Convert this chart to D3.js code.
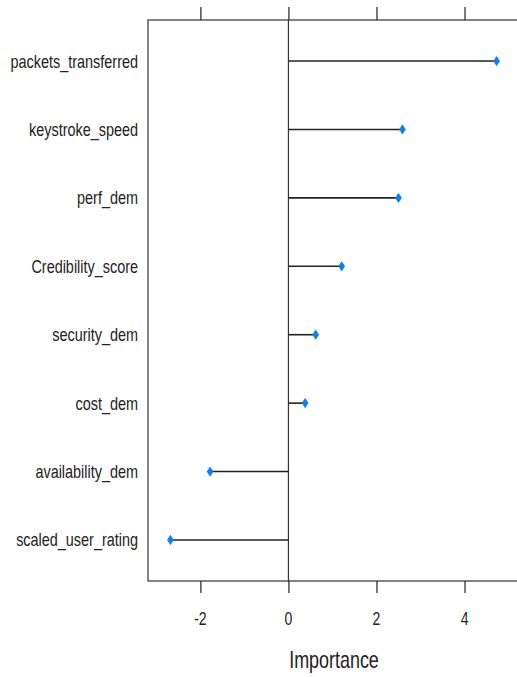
<!DOCTYPE html>
<html>
<head>
<meta charset="utf-8">
<script src="https://cdn.jsdelivr.net/npm/d3@7"></script>
<style>
  body { margin: 0; background: #fff; }
  text { font-family: "Liberation Sans", Arial, sans-serif; fill: #222; }
</style>
</head>
<body>
<svg id="canvas" width="517" height="677"></svg>
<script>
// variable names, top to bottom as drawn
let features = ['packets_transferred', 'keystroke_speed', 'perf_dem', 'Credibility_score',
                'security_dem', 'cost_dem', 'availability_dem', 'scaled_user_rating'];
let importance = [4.73, 2.59, 2.50, 1.21, 0.62, 0.38, -1.78, -2.68];
let tickValues = [-2, 0, 2, 4];
let xTitle = 'Importance';

let canvas = d3.select('#canvas');

let panelLeft = 148, panelRight = 520, panelTop = 20, panelBottom = 581;
let squeeze = 0.78;   // text in the picture is horizontally condensed

let x = d3.scaleLinear().domain([-3.19, 5.26]).range([panelLeft, panelRight]);
let y = d3.scalePoint().domain(features).range([panelTop, panelBottom]).padding(0.6);

// panel box
canvas.append('rect')
    .attr('x', panelLeft).attr('y', panelTop)
    .attr('width', panelRight - panelLeft).attr('height', panelBottom - panelTop)
    .attr('fill', 'none').attr('stroke', '#333').attr('stroke-width', 1.2);

// zero reference line
canvas.append('line')
    .attr('x1', x(0)).attr('x2', x(0))
    .attr('y1', panelTop).attr('y2', panelBottom)
    .attr('stroke', '#333').attr('stroke-width', 1.2);

// ticks on top and bottom
let topAxis = d3.axisTop(x).tickValues(tickValues).tickSize(13).tickFormat('');
let bottomAxis = d3.axisBottom(x).tickValues(tickValues).tickSize(12).tickFormat('');
canvas.append('g').attr('transform', 'translate(0,' + panelTop + ')').call(topAxis);
canvas.append('g').attr('transform', 'translate(0,' + panelBottom + ')').call(bottomAxis);
canvas.selectAll('.domain').remove();
canvas.selectAll('.tick line').attr('stroke', '#222').attr('stroke-width', 1.2);

// tick labels
canvas.selectAll('.xlab')
    .data(tickValues)
    .enter()
    .append('text')
    .attr('class', 'xlab')
    .attr('text-anchor', 'middle')
    .attr('font-size', 18)
    .attr('transform', (d) => 'translate(' + x(d) + ',625) scale(' + squeeze + ',1)')
    .text((d) => d);

// axis title
canvas.append('text')
    .attr('text-anchor', 'middle')
    .attr('font-size', 23)
    .attr('transform', 'translate(' + ((panelLeft + panelRight) / 2) + ',668) scale(' + squeeze + ',1)')
    .text(xTitle);

// feature labels
canvas.selectAll('.ylab')
    .data(features)
    .enter()
    .append('text')
    .attr('class', 'ylab')
    .attr('text-anchor', 'end')
    .attr('font-size', 18.5)
    .attr('transform', (d) => 'translate(138,' + (y(d) + 6.5) + ') scale(' + squeeze + ',1)')
    .text((d) => d);

// segments from zero
canvas.selectAll('.seg')
    .data(features)
    .enter()
    .append('line')
    .attr('class', 'seg')
    .attr('x1', x(0))
    .attr('x2', (d, i) => x(importance[i]))
    .attr('y1', (d) => y(d))
    .attr('y2', (d) => y(d))
    .attr('stroke', '#222')
    .attr('stroke-width', 1.6);

// diamonds
let diamond = d3.symbol().type(d3.symbolDiamond).size(42);
canvas.selectAll('.pt')
    .data(features)
    .enter()
    .append('path')
    .attr('class', 'pt')
    .attr('d', diamond)
    .attr('transform', (d, i) => 'translate(' + x(importance[i]) + ',' + y(d) + ') scale(0.95,0.85)')
    .attr('fill', '#0a7ff5');
</script>
</body>
</html>
